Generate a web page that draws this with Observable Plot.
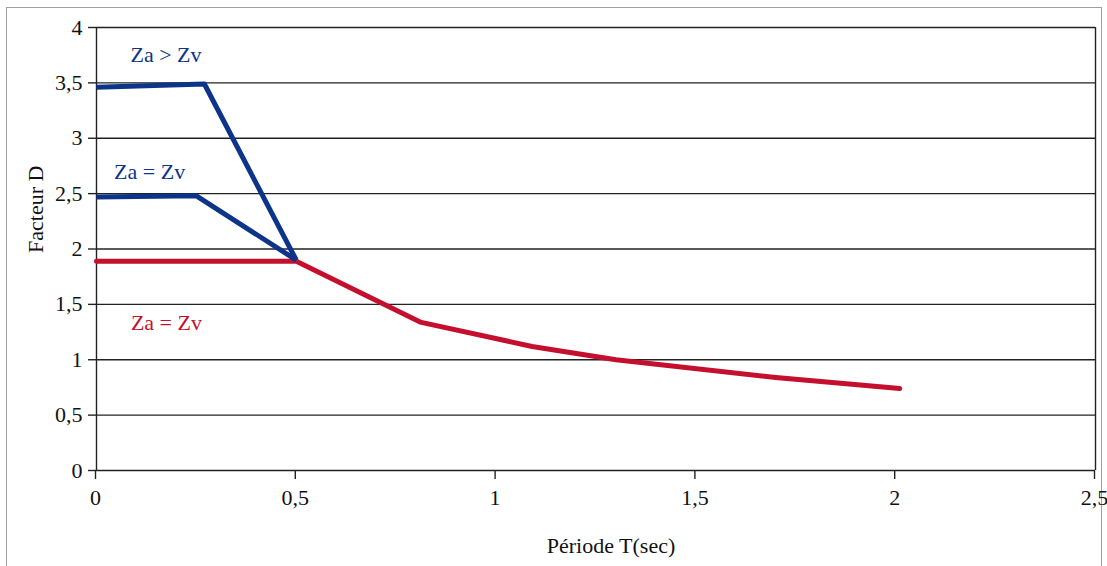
<!DOCTYPE html>
<html>
<head>
<meta charset="utf-8">
<script src="https://cdn.jsdelivr.net/npm/d3@7"></script>
<script src="https://cdn.jsdelivr.net/npm/@observablehq/plot@0.6"></script>
<style>
  html, body { margin: 0; padding: 0; background: #fff; }
  #wrap { position: relative; width: 1107px; height: 566px; overflow: hidden; }
  #frame { position: absolute; left: 6px; top: 7px; width: 1096px; height: 600px; border: 1.5px solid #a0a0a0; box-sizing: border-box; }
  #chart { position: absolute; left: 0; top: 0; }
  #chart svg, #chart svg text { font-family: "Liberation Serif", "Times New Roman", serif !important; }
</style>
</head>
<body>
<div id="wrap"><div id="frame"></div><div id="chart"></div></div>
<script>
// Series: Za > Zv (blue, top)
const periodTop = [0, 0.27, 0.5];
const factorTop = [3.46, 3.49, 1.90];
// Series: Za = Zv (blue, middle)
const periodMid = [0, 0.25, 0.5];
const factorMid = [2.47, 2.48, 1.90];
// Series: Za = Zv (red)
const periodRed = [0, 0.5, 0.81, 1.09, 1.30, 1.70, 2.01];
const factorRed = [1.89, 1.89, 1.34, 1.12, 1.00, 0.84, 0.74];

const xTicks = [0, 0.5, 1, 1.5, 2, 2.5];
const yTicks = [0, 0.5, 1, 1.5, 2, 2.5, 3, 3.5, 4];

const labelText = ["Za > Zv", "Za = Zv", "Za = Zv"];
const labelT = [0.174, 0.133, 0.175];
const labelD = [3.75, 2.70, 1.33];

const blue = "#0c3488";
const red = "#c40f2f";
const labelColors = [blue, blue, red];

const toRows = (xs, ys) => xs.map((x, i) => ({T: x, D: ys[i]}));
const fmt = d => String(d).replace(".", ",");
const font = "'Liberation Serif', 'Times New Roman', serif";

const chart = Plot.plot({
  width: 1107,
  height: 566,
  marginLeft: 96,
  marginRight: 12,
  marginTop: 27,
  marginBottom: 96,
  style: `font-family: ${font}; font-size: 22px; color: #111; background: transparent;`,
  x: {domain: [0, 2.5]},
  y: {domain: [0, 4]},
  marks: [
    Plot.gridY(yTicks, {stroke: "#222", strokeOpacity: 1, strokeWidth: 1.4}),
    Plot.ruleX([0, 2.5], {stroke: "#222", strokeWidth: 1.4}),
    Plot.axisY(yTicks, {tickSize: 8, tickPadding: 6, tickFormat: fmt, label: null, stroke: "#222", strokeWidth: 1.4, fontSize: 22, fontFamily: font}),
    Plot.axisX(xTicks, {tickSize: 9, tickPadding: 10, tickFormat: fmt, label: null, stroke: "#222", strokeWidth: 1.4, fontSize: 22, fontFamily: font, dx: -1}),
    Plot.line(toRows(periodRed, factorRed), {x: "T", y: "D", stroke: red, strokeWidth: 5, strokeLinejoin: "round", strokeLinecap: "round"}),
    Plot.line(toRows(periodMid, factorMid), {x: "T", y: "D", stroke: blue, strokeWidth: 5, strokeLinejoin: "round", strokeLinecap: "butt"}),
    Plot.line(toRows(periodTop, factorTop), {x: "T", y: "D", stroke: blue, strokeWidth: 5, strokeLinejoin: "round", strokeLinecap: "butt"}),
    Plot.text(labelText.map((t, i) => ({t, T: labelT[i], D: labelD[i], c: labelColors[i]})),
      {x: "T", y: "D", text: "t", fill: "c", fontSize: 22, fontFamily: font}),
    Plot.text(["Facteur D"], {frameAnchor: "left", dx: -61, dy: 4, rotate: -90, fontSize: 22, fontFamily: font, fill: "#111"}),
    Plot.text(["Période T(sec)"], {frameAnchor: "bottom", dx: 15, dy: 82, fontSize: 22, fontFamily: font, fill: "#111"})
  ]
});
d3.select(chart).selectAll("text").style("font-family", font);
document.getElementById("chart").appendChild(chart);
</script>
</body>
</html>
